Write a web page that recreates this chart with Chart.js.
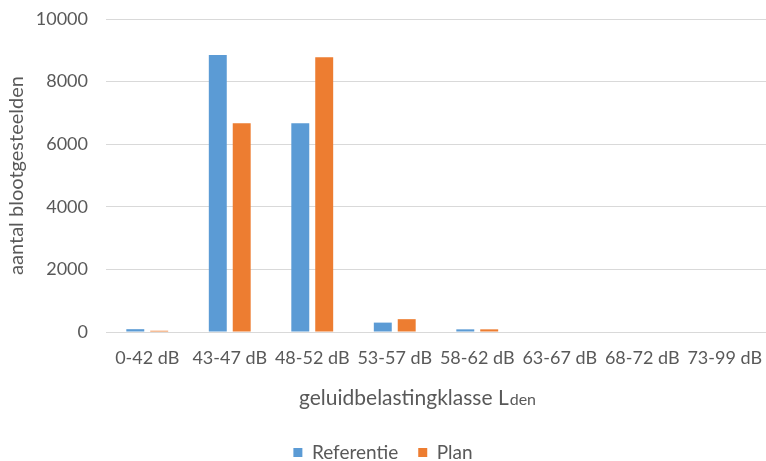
<!DOCTYPE html>
<html>
<head>
<meta charset="utf-8">
<script src="https://cdn.jsdelivr.net/npm/chart.js@4/dist/chart.umd.min.js"></script>
<style>
  html, body { margin: 0; padding: 0; background: #ffffff; }
  #wrap { width: 766px; height: 461px; }
</style>
</head>
<body>
<div id="wrap"><canvas id="c" width="766" height="461"></canvas></div>
<script>
// Exposure classes (Lden) and number of exposed people per scenario
const categories = ['0-42 dB', '43-47 dB', '48-52 dB', '53-57 dB', '58-62 dB', '63-67 dB', '68-72 dB', '73-99 dB'];
const referentie = [90, 8850, 6670, 300, 85, 0, 0, 0];
const plan = [40, 6670, 8780, 410, 85, 0, 0, 0];
const yTicks = [0, 2000, 4000, 6000, 8000, 10000];

const GREY = '#595959';
const GRID = '#D9D9D9';
const FONT = 'Lato';

// x-axis title with subscript-style "den"
const xTitlePlugin = {
  id: 'xTitle',
  afterDraw(chart) {
    const ctx = chart.ctx;
    const main = 'geluidbelastingklasse L';
    const sub = 'den';
    ctx.save();
    ctx.fillStyle = GREY;
    ctx.textBaseline = 'alphabetic';
    ctx.font = '21px ' + FONT;
    const w1 = ctx.measureText(main).width;
    ctx.font = '16px ' + FONT;
    const w2 = ctx.measureText(sub).width;
    const cx = 417;
    const y = chart.chartArea.bottom + 73;
    const x0 = cx - (w1 + w2) / 2;
    ctx.font = '21px ' + FONT;
    ctx.textAlign = 'left';
    ctx.fillText(main, x0, y);
    ctx.font = '16px ' + FONT;
    ctx.fillText(sub, x0 + w1 + 1, y);
    ctx.restore();
  }
};

new Chart(document.getElementById('c'), {
  type: 'bar',
  data: {
    labels: categories,
    datasets: [
      { label: 'Referentie', data: referentie, backgroundColor: '#5B9BD5', borderWidth: 0 },
      { label: 'Plan', data: plan, backgroundColor: '#ED7D31', borderWidth: 0 }
    ]
  },
  options: {
    responsive: false,
    animation: false,
    layout: { padding: { top: 19, right: 0, bottom: -11, left: 0 } },
    datasets: { bar: { categoryPercentage: 0.58, barPercentage: 0.75 } },
    plugins: {
      legend: {
        position: 'bottom',
        labels: {
          color: GREY,
          font: { family: FONT, size: 19 },
          boxWidth: 9,
          boxHeight: 9,
          padding: 20
        }
      },
      tooltip: { enabled: false }
    },
    scales: {
      x: {
        grid: { display: false, drawTicks: false },
        border: { color: GRID, width: 1 },
        ticks: { color: GREY, font: { family: FONT, size: 18 }, padding: 15, maxRotation: 0 },
        afterFit(s) { s.height = 91; s.paddingLeft = 0; s.paddingRight = 0; }
      },
      y: {
        min: 0,
        max: 10000,
        afterBuildTicks(s) { s.ticks = yTicks.map(v => ({ value: v })); },
        grid: { color: GRID, lineWidth: 1, drawTicks: false, tickLength: 0 },
        border: { display: false },
        ticks: { color: GREY, font: { family: FONT, size: 18 }, padding: 18, callback: v => String(v) },
        title: {
          display: true,
          text: 'aantal blootgesteelden',
          color: GREY,
          font: { family: FONT, size: 20 },
          padding: { top: 5, bottom: 0 }
        },
        afterFit(s) { s.width = 106; s.paddingTop = 0; s.paddingBottom = 0; }
      }
    }
  },
  plugins: [xTitlePlugin]
});
</script>
</body>
</html>
